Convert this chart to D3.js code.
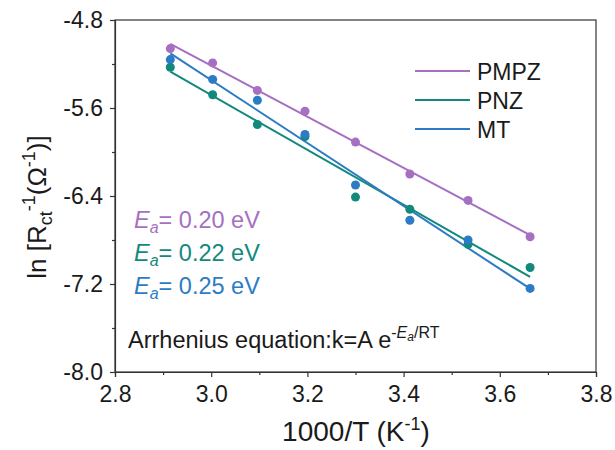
<!DOCTYPE html>
<html>
<head>
<meta charset="utf-8">
<script src="https://cdn.jsdelivr.net/npm/d3@7"></script>
<style>
  html, body { margin: 0; padding: 0; background: #fff; }
  svg { display: block; font-family: "Liberation Sans", Arial, sans-serif; }
</style>
</head>
<body>
<svg id="chart" width="615" height="450"></svg>
<script>
// 1000/T (K^-1) for each measurement temperature
const invT = [2.915, 3.003, 3.096, 3.195, 3.300, 3.413, 3.534, 3.663];

// ln(1/Rct) for each electrolyte
const seriesNames = ["PMPZ", "PNZ", "MT"];
const pmpzValues = [-5.06, -5.19, -5.44, -5.63, -5.91, -6.20, -6.44, -6.77];
const pnzValues  = [-5.23, -5.48, -5.75, -5.86, -6.41, -6.52, -6.84, -7.05];
const mtValues   = [-5.16, -5.34, -5.53, -5.84, -6.30, -6.62, -6.80, -7.24];
const seriesColors = ["#a66fc2", "#12897d", "#2b7cc4"];
const activationEnergies = ["0.20", "0.22", "0.25"];

const xTicks = [2.8, 3.0, 3.2, 3.4, 3.6, 3.8];
const yTicks = [-4.8, -5.6, -6.4, -7.2, -8.0];

const series = seriesNames.map((name, i) => ({
  name,
  color: seriesColors[i],
  values: [pmpzValues, pnzValues, mtValues][i]
}));

const svg = d3.select("#chart");
const margin = { left: 115, top: 20, right: 19, bottom: 78 };
const W = 615, H = 450;
const plotW = W - margin.left - margin.right;
const plotH = H - margin.top - margin.bottom;

const x = d3.scaleLinear().domain([2.8, 3.8]).range([0, plotW]);
const y = d3.scaleLinear().domain([-8.0, -4.8]).range([plotH, 0]);

const g = svg.append("g").attr("transform", `translate(${margin.left},${margin.top})`);

// least-squares line through each series
function fit(xs, ys) {
  const n = xs.length;
  const mx = d3.mean(xs), my = d3.mean(ys);
  let sxy = 0, sxx = 0;
  for (let i = 0; i < n; i++) { sxy += (xs[i] - mx) * (ys[i] - my); sxx += (xs[i] - mx) ** 2; }
  const b = sxy / sxx;
  return { slope: b, intercept: my - b * mx };
}

// plain hyphen for negative tick labels
const fmt = d => d.toFixed(1);

const axisColor = "#333";

// frame
g.append("rect").attr("x", 0).attr("y", 0).attr("width", plotW).attr("height", plotH)
  .attr("fill", "none").attr("stroke", axisColor).attr("stroke-width", 1.2);

// bottom axis: major ticks labelled, minor ticks between
const xAxis = d3.axisBottom(x).tickValues(xTicks).tickFormat(fmt).tickSize(5).tickPadding(8);
const gx = g.append("g").attr("transform", `translate(0,${plotH})`).call(xAxis);
g.append("g").attr("transform", `translate(0,${plotH})`)
  .call(d3.axisBottom(x).tickValues([2.9, 3.1, 3.3, 3.5, 3.7]).tickFormat("").tickSize(3))
  .call(s => s.select(".domain").remove());

const yAxis = d3.axisLeft(y).tickValues(yTicks).tickFormat(fmt).tickSize(5).tickPadding(7);
const gy = g.append("g").call(yAxis);
g.append("g")
  .call(d3.axisLeft(y).tickValues([-5.2, -6.0, -6.8, -7.6]).tickFormat("").tickSize(3))
  .call(s => s.select(".domain").remove());

g.selectAll(".tick line, .domain").attr("stroke", axisColor).attr("stroke-width", 1.2);
g.selectAll(".tick text").attr("fill", "#1a1a1a").style("font-size", "23px")
  .style("font-family", "'Liberation Sans', Arial, sans-serif");
gx.selectAll(".tick text").attr("dy", "0.75em");

// fitted lines
series.forEach(s => {
  const f = fit(invT, s.values);
  const x0 = invT[0], x1 = invT[invT.length - 1];
  g.append("line")
    .attr("x1", x(x0)).attr("y1", y(f.intercept + f.slope * x0))
    .attr("x2", x(x1)).attr("y2", y(f.intercept + f.slope * x1))
    .attr("stroke", s.color).attr("stroke-width", 2);
});

// measured points
series.forEach(s => {
  g.selectAll(null).data(s.values).enter().append("circle")
    .attr("cx", (d, i) => x(invT[i])).attr("cy", d => y(d))
    .attr("r", 4.5).attr("fill", s.color);
});

// legend
const legend = g.append("g").attr("transform", `translate(${415 - margin.left},${71 - margin.top})`);
series.forEach((s, i) => {
  const row = legend.append("g").attr("transform", `translate(0,${i * 29})`);
  row.append("line").attr("x1", 0).attr("x2", 55).attr("y1", 0).attr("y2", 0)
    .attr("stroke", s.color).attr("stroke-width", 2);
  row.append("text").attr("x", 62).attr("y", 8.5).attr("fill", "#1a1a1a")
    .style("font-size", "23px").text(s.name);
});

// activation energies
series.forEach((s, i) => {
  const t = svg.append("text").attr("x", 134).attr("y", 228 + i * 33)
    .attr("fill", s.color).style("font-size", "23.5px");
  t.append("tspan").style("font-style", "italic").text("E");
  t.append("tspan").style("font-style", "italic").style("font-size", "16px").attr("dy", 5).text("a");
  t.append("tspan").attr("dy", -5).text(`= ${activationEnergies[i]} eV`);
});

// Arrhenius relation
const arr = svg.append("text").attr("x", 128).attr("y", 348).attr("fill", "#1a1a1a").style("font-size", "23.5px");
arr.append("tspan").text("Arrhenius equation:k=A e");
arr.append("tspan").attr("dy", -10).style("font-size", "16px").text("-");
arr.append("tspan").style("font-size", "16px").style("font-style", "italic").text("E");
arr.append("tspan").style("font-size", "12px").style("font-style", "italic").attr("dy", 3).text("a");
arr.append("tspan").style("font-size", "16px").attr("dy", -3).text("/RT");

// axis titles
const xt = svg.append("text").attr("x", 356).attr("y", 441)
  .attr("text-anchor", "middle").attr("fill", "#1a1a1a").style("font-size", "28px");
xt.append("tspan").text("1000/T (K");
xt.append("tspan").attr("dy", -11).style("font-size", "18px").text("-1");
xt.append("tspan").attr("dy", 11).text(")");

const yt = svg.append("text").attr("transform", `translate(46,207) rotate(-90)`)
  .attr("text-anchor", "middle").attr("fill", "#1a1a1a").style("font-size", "26px");
yt.append("tspan").text("ln [R");
yt.append("tspan").attr("dy", 6).style("font-size", "18px").text("ct");
yt.append("tspan").attr("dy", -17).style("font-size", "18px").text("-1");
yt.append("tspan").attr("dy", 11).text("(Ω");
yt.append("tspan").attr("dy", -11).style("font-size", "18px").text("-1");
yt.append("tspan").attr("dy", 11).text(")]");
</script>
</body>
</html>
